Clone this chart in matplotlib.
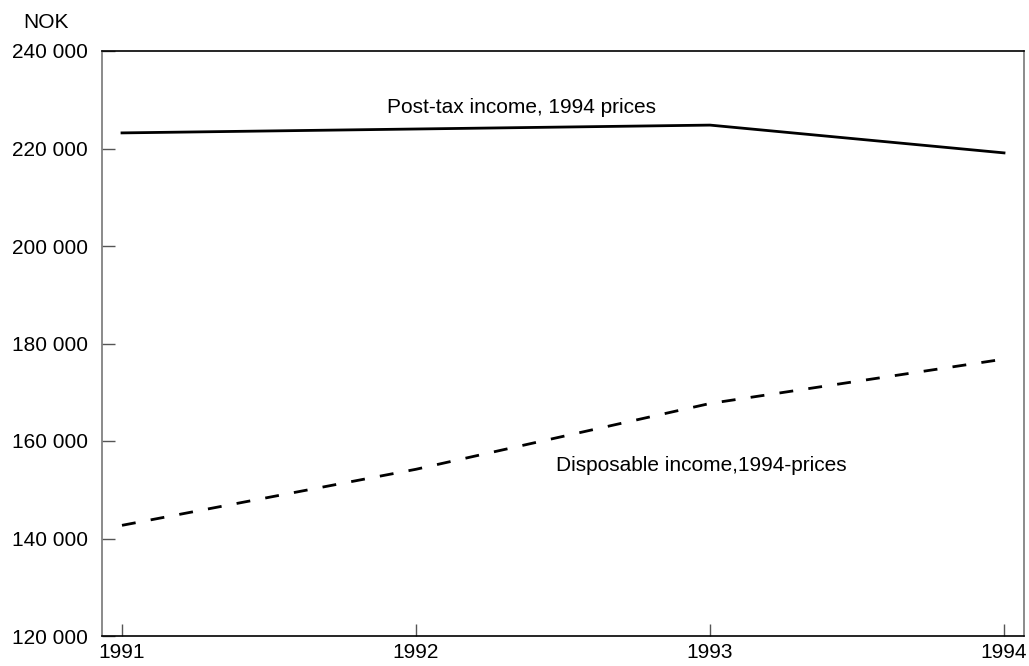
import matplotlib
matplotlib.use('Agg')
import matplotlib.pyplot as plt

plt.rcParams['font.family'] = ['Liberation Sans', 'DejaVu Sans']

years = [1991, 1992, 1993, 1994]
post_tax = [223200, 224000, 224800, 219100]
disposable = [142700, 154200, 167700, 176800]
y_ticks = [120000, 140000, 160000, 180000, 200000, 220000, 240000]
y_labels = ['120 000', '140 000', '160 000', '180 000', '200 000', '220 000', '240 000']

fig = plt.figure(figsize=(10.29, 6.66), dpi=100)
ax = fig.add_axes([102 / 1029, 1 - 636 / 666, 922 / 1029, 585 / 666])

ax.plot(years, post_tax, color='black', lw=2)
ax.plot(years, disposable, color='black', lw=2, dashes=(5, 5.5))

ax.set_xlim(1990.932, 1994.068)
ax.set_ylim(120000, 240000)
ax.set_xticks(years)
ax.set_xticklabels([str(y) for y in years])
ax.set_yticks(y_ticks)
ax.set_yticklabels(y_labels)
ax.tick_params(direction='in', length=9, width=1, color='#555555', labelsize=15)
ax.tick_params(axis='y', pad=10)
ax.tick_params(axis='x', pad=5)

for side in ['left', 'right']:
    ax.spines[side].set_color('#777777')
for side in ['top', 'bottom']:
    ax.spines[side].set_color('black')
for s in ax.spines.values():
    s.set_linewidth(1.2)

ax.text(1992.36, 228400, 'Post-tax income, 1994 prices', fontsize=15, ha='center', va='center')
ax.text(1992.97, 155000, 'Disposable income,1994-prices', fontsize=15, ha='center', va='center')

fig.text(46 / 1029, 1 - 23 / 666, 'NOK', fontsize=15, ha='center', va='center')

fig.savefig('out.png', dpi=100)
